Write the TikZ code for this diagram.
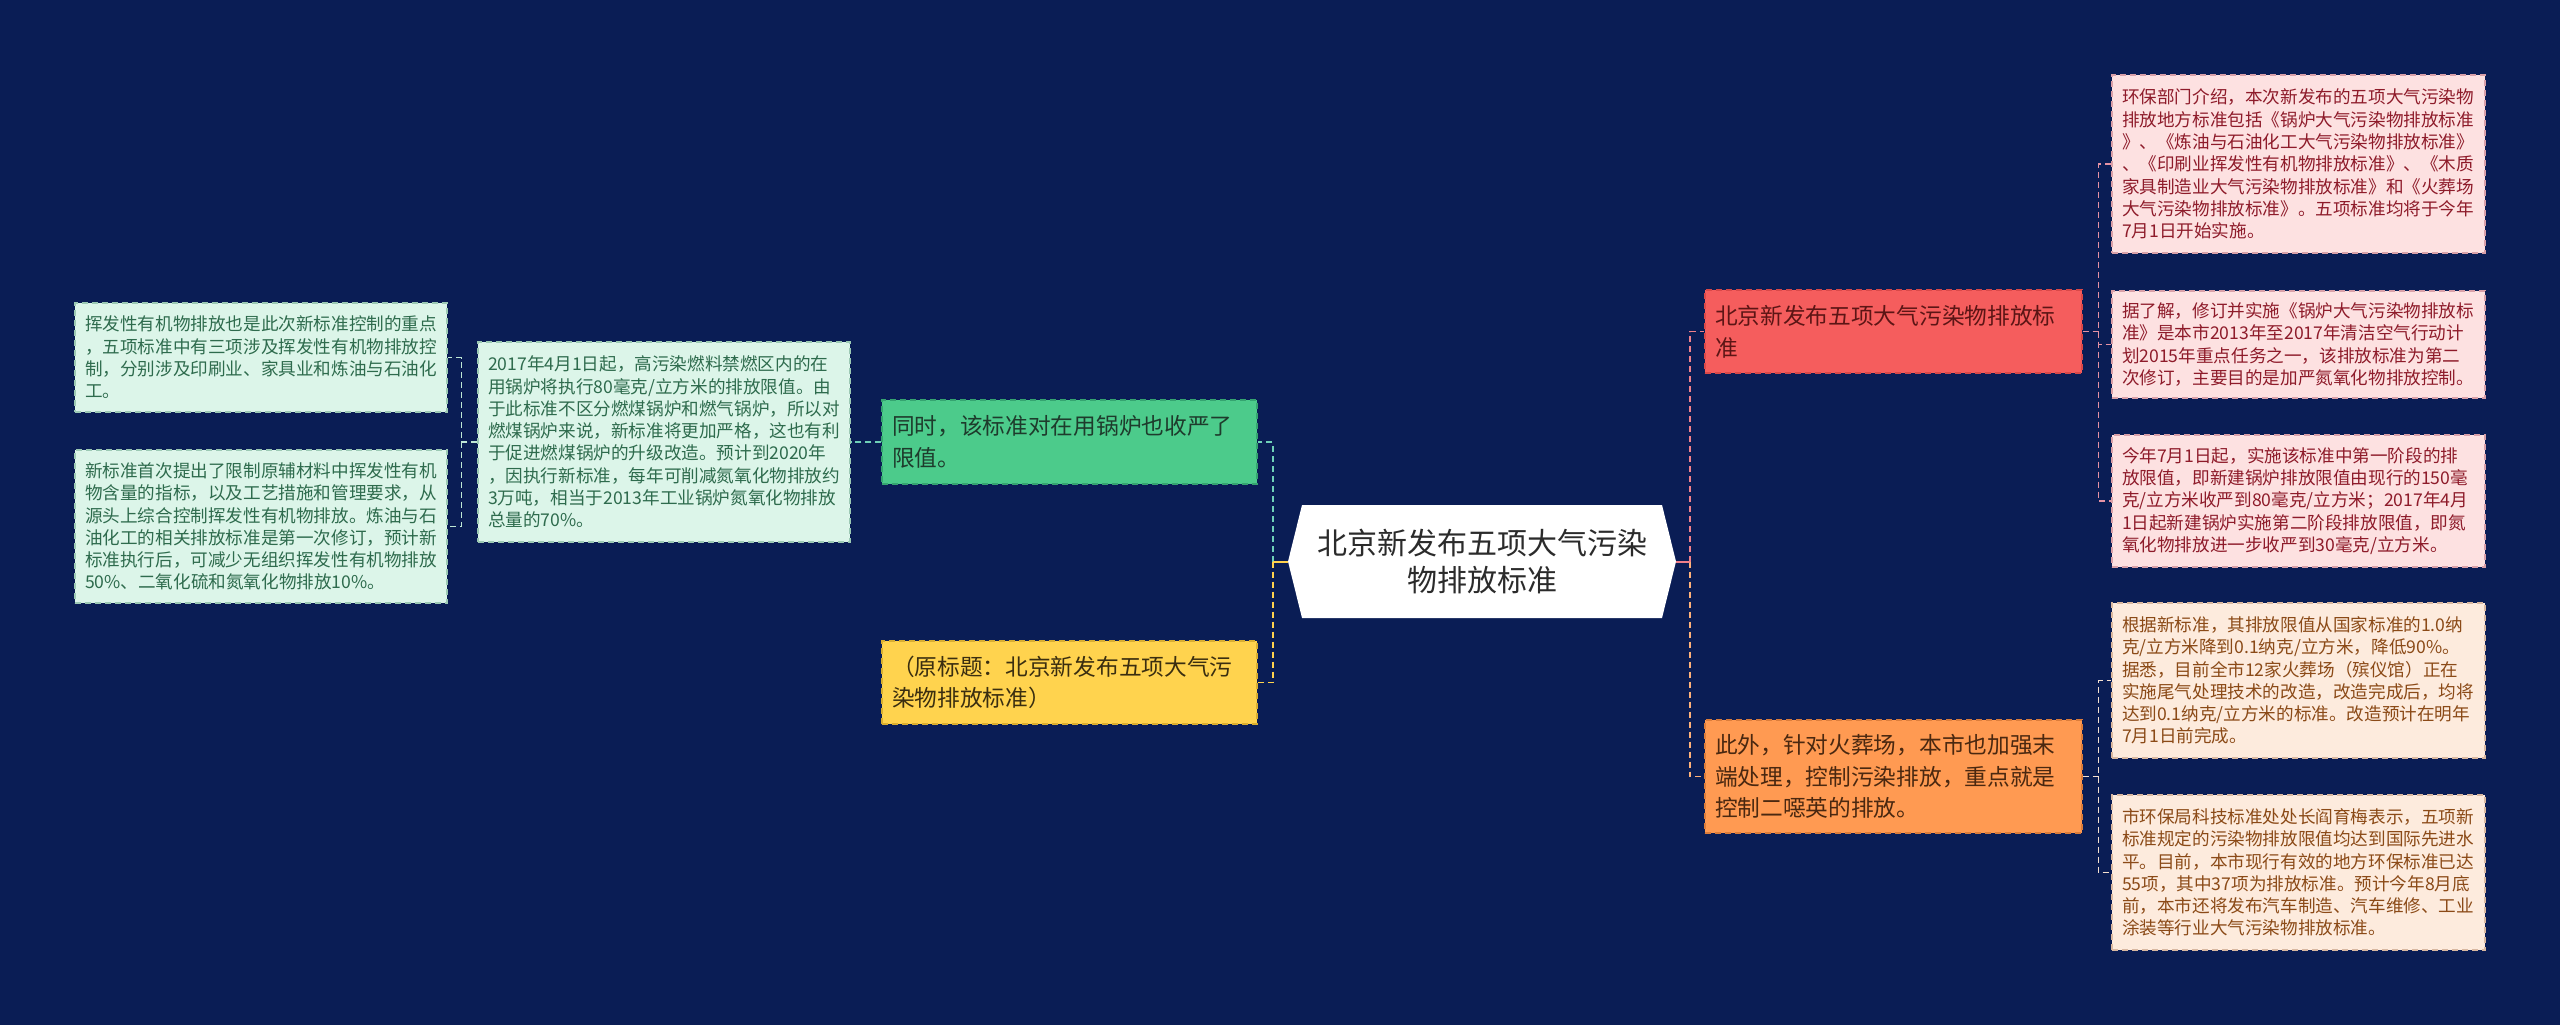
\documentclass[tikz,border=0pt]{standalone}
\usepackage{fontspec}
\setmainfont{Noto Sans CJK SC}
\definecolor{bg}{HTML}{0A1D55}
\definecolor{hubtext}{HTML}{2B2B2B}
\definecolor{gfill}{HTML}{4CCB8B}
\definecolor{gdraw}{HTML}{35A470}
\definecolor{gtext}{HTML}{1E3B2C}
\definecolor{yfill}{HTML}{FFD34E}
\definecolor{ydraw}{HTML}{D9AE30}
\definecolor{ytext}{HTML}{3A2E10}
\definecolor{lgfill}{HTML}{DCF5E9}
\definecolor{lgdraw}{HTML}{9CC9B4}
\definecolor{lgtext}{HTML}{2E6B4D}
\definecolor{rfill}{HTML}{F55D5D}
\definecolor{rdraw}{HTML}{D94848}
\definecolor{rtext}{HTML}{5C1515}
\definecolor{pfill}{HTML}{FDE1E1}
\definecolor{pdraw}{HTML}{D9A0A8}
\definecolor{ptext}{HTML}{8E1B2A}
\definecolor{ofill}{HTML}{FF9A52}
\definecolor{odraw}{HTML}{DB7C3A}
\definecolor{otext}{HTML}{4A2810}
\definecolor{pefill}{HTML}{FDEBDD}
\definecolor{pedraw}{HTML}{D9B8A0}
\definecolor{petext}{HTML}{8B4A17}
\definecolor{lnteal}{HTML}{6FD0B8}
\definecolor{lnyellow}{HTML}{FFD24D}
\definecolor{lnleaf}{HTML}{BFE8D6}
\definecolor{lnred}{HTML}{F0808A}
\definecolor{lnorange}{HTML}{FFB27A}
\definecolor{lnpink}{HTML}{E592A4}
\definecolor{lnpeach}{HTML}{F5E0D0}
\begin{document}
\begin{tikzpicture}[x=1pt,y=-1pt,
  boxbase/.style={rectangle, dash pattern=on 6pt off 4pt, line width=1.3pt, inner xsep=10pt, inner ysep=0pt, align=left, anchor=center},
  lvlbox/.style={boxbase, font=\fontsize{22.7}{31.7}\selectfont},
  leafbox/.style={boxbase, inner xsep=10pt, font=\fontsize{17.6}{22.3}\selectfont},
  gnode/.style={lvlbox, fill=gfill, draw=gdraw, text=gtext},
  ynode/.style={lvlbox, fill=yfill, draw=ydraw, text=ytext},
  rnode/.style={lvlbox, fill=rfill, draw=rdraw, text=rtext},
  onode/.style={lvlbox, fill=ofill, draw=odraw, text=otext},
  lgleaf/.style={leafbox, fill=lgfill, draw=lgdraw, text=lgtext},
  pleaf/.style={leafbox, fill=pfill, draw=pdraw, text=ptext},
  peleaf/.style={leafbox, fill=pefill, draw=pedraw, text=petext},
  conn/.style={line width=1.5pt, dash pattern=on 6pt off 4pt},
  stub/.style={line width=2pt},
  hub/.style={rectangle, minimum width=388pt, minimum height=113pt, align=center, text=hubtext,
    font=\fontsize{30}{36.7}\selectfont,
    path picture={\fill[white] (path picture bounding box.west)
      -- ([xshift=14pt]path picture bounding box.north west)
      -- ([xshift=-14pt]path picture bounding box.north east)
      -- (path picture bounding box.east)
      -- ([xshift=-14pt]path picture bounding box.south east)
      -- ([xshift=14pt]path picture bounding box.south west) -- cycle;}}
]
\path[fill=bg] (0,0) rectangle (2560,1025);

% centre
\node[hub] (c) at (1482,561.5) {北京新发布五项大气污染\\物排放标准};

% left level 1
\node[gnode, text width=355pt, minimum height=84pt] (g) at (1069.5,442) {同时，该标准对在用锅炉也收严了\\限值。};
\node[ynode, text width=355pt, minimum height=83pt] (yl) at (1069.5,682.5) {（原标题：北京新发布五项大气污\\染物排放标准）};

% left leaves
\node[lgleaf, text width=352pt, minimum height=200pt] (b17) at (664,442) {2017年4月1日起，高污染燃料禁燃区内的在\\用锅炉将执行80毫克/立方米的排放限值。由\\于此标准不区分燃煤锅炉和燃气锅炉，所以对\\燃煤锅炉来说，新标准将更加严格，这也有利\\于促进燃煤锅炉的升级改造。预计到2020年\\，因执行新标准，每年可削减氮氧化物排放约\\3万吨，相当于2013年工业锅炉氮氧化物排放\\总量的70\%。};
\node[lgleaf, text width=352pt, minimum height=109pt] (la) at (261,357.5) {挥发性有机物排放也是此次新标准控制的重点\\，五项标准中有三项涉及挥发性有机物排放控\\制，分别涉及印刷业、家具业和炼油与石油化\\工。};
\node[lgleaf, text width=352pt, minimum height=153pt] (lb) at (261,526.5) {新标准首次提出了限制原辅材料中挥发性有机\\物含量的指标，以及工艺措施和管理要求，从\\源头上综合控制挥发性有机物排放。炼油与石\\油化工的相关排放标准是第一次修订，预计新\\标准执行后，可减少无组织挥发性有机物排放\\50\%、二氧化硫和氮氧化物排放10\%。};

% right level 1
\node[rnode, text width=357pt, minimum height=83pt] (r) at (1893.5,331.5) {北京新发布五项大气污染物排放标\\准};
\node[onode, text width=357pt, minimum height=113pt] (o) at (1893.5,776.5) {此外，针对火葬场，本市也加强末\\端处理，控制污染排放，重点就是\\控制二噁英的排放。};

% right leaves
\node[pleaf, text width=353pt, minimum height=178pt] (p1) at (2298.5,164) {环保部门介绍，本次新发布的五项大气污染物\\排放地方标准包括《锅炉大气污染物排放标准\\》、《炼油与石油化工大气污染物排放标准》\\、《印刷业挥发性有机物排放标准》、《木质\\家具制造业大气污染物排放标准》和《火葬场\\大气污染物排放标准》。五项标准均将于今年\\7月1日开始实施。};
\node[pleaf, text width=353pt, minimum height=107pt] (p2) at (2298.5,344.5) {据了解，修订并实施《锅炉大气污染物排放标\\准》是本市2013年至2017年清洁空气行动计\\划2015年重点任务之一，该排放标准为第二\\次修订，主要目的是加严氮氧化物排放控制。};
\node[pleaf, text width=353pt, minimum height=132pt] (p3) at (2298.5,501) {今年7月1日起，实施该标准中第一阶段的排\\放限值，即新建锅炉排放限值由现行的150毫\\克/立方米收严到80毫克/立方米；2017年4月\\1日起新建锅炉实施第二阶段排放限值，即氮\\氧化物排放进一步收严到30毫克/立方米。};
\node[peleaf, text width=353pt, minimum height=155pt] (o1) at (2298.5,680.5) {根据新标准，其排放限值从国家标准的1.0纳\\克/立方米降到0.1纳克/立方米，降低90\%。\\据悉，目前全市12家火葬场（殡仪馆）正在\\实施尾气处理技术的改造，改造完成后，均将\\达到0.1纳克/立方米的标准。改造预计在明年\\7月1日前完成。};
\node[peleaf, text width=353pt, minimum height=155pt] (o2) at (2298.5,872.5) {市环保局科技标准处处长阎育梅表示，五项新\\标准规定的污染物排放限值均达到国际先进水\\平。目前，本市现行有效的地方环保标准已达\\55项，其中37项为排放标准。预计今年8月底\\前，本市还将发布汽车制造、汽车维修、工业\\涂装等行业大气污染物排放标准。};

% connectors left
\draw[conn, lnteal] ([xshift=-15pt]c.west) |- (g.east);
\draw[conn, lnyellow] ([xshift=-15pt]c.west) |- (yl.east);
\draw[stub, lnyellow] (c.west) -- ([xshift=-15pt]c.west);
\draw[conn, lnteal] (g.west) -- (b17.east);
\draw[conn, lnleaf] (b17.west) -- ([xshift=-16pt]b17.west) |- (la.east);
\draw[conn, lnleaf] ([xshift=-16pt]b17.west) |- (lb.east);

% connectors right
\draw[conn, lnred] ([xshift=14pt]c.east) |- (r.west);
\draw[conn, lnorange] ([xshift=14pt]c.east) |- (o.west);
\draw[stub, lnred] (c.east) -- ([xshift=14pt]c.east);
\draw[conn, lnpink] (r.east) -- ([xshift=16pt]r.east) |- (p1.west);
\draw[conn, lnpink] ([xshift=16pt]r.east) |- (p2.west);
\draw[conn, lnpink] ([xshift=16pt]r.east) |- (p3.west);
\draw[conn, lnpeach] (o.east) -- ([xshift=16pt]o.east) |- (o1.west);
\draw[conn, lnpeach] ([xshift=16pt]o.east) |- (o2.west);
\end{tikzpicture}
\end{document}
